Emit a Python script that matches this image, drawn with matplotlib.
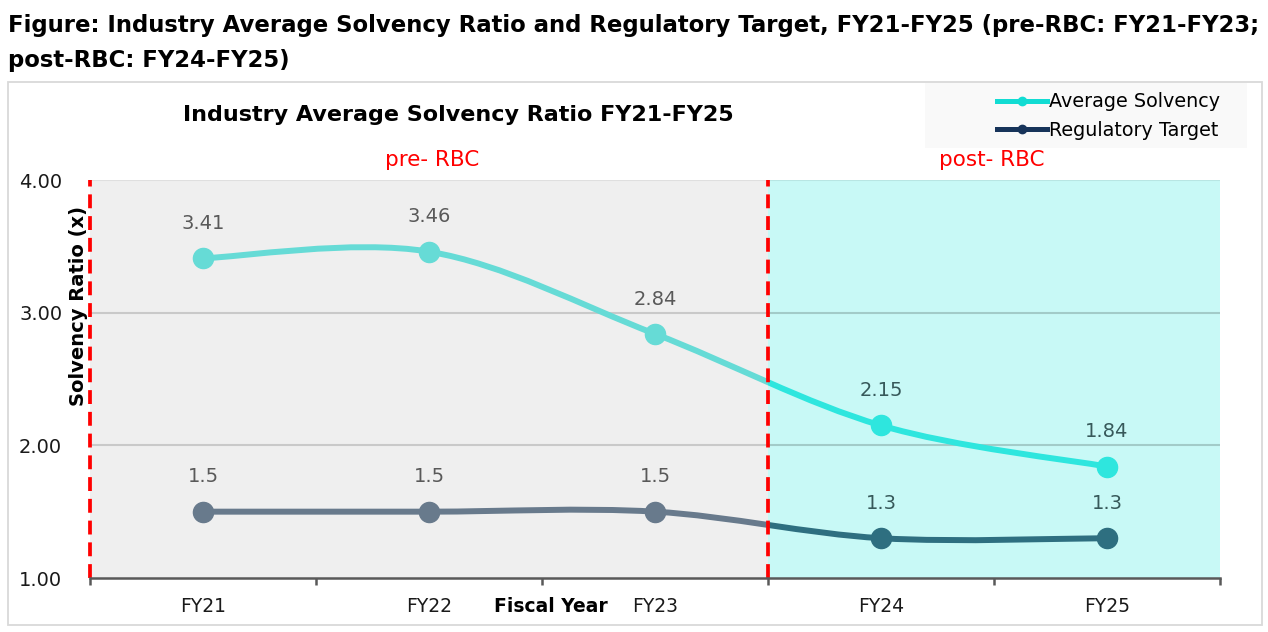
import matplotlib
matplotlib.use('Agg')
import matplotlib.pyplot as plt
from matplotlib.path import Path
from matplotlib.patches import PathPatch, Rectangle
from matplotlib.lines import Line2D
import numpy as np

years = ['FY21', 'FY22', 'FY23', 'FY24', 'FY25']
avg_solvency = [3.41, 3.46, 2.84, 2.15, 1.84]
reg_target = [1.5, 1.5, 1.5, 1.3, 1.3]
avg_labels = ['3.41', '3.46', '2.84', '2.15', '1.84']
reg_labels = ['1.5', '1.5', '1.5', '1.3', '1.3']
yticks = [1.0, 2.0, 3.0, 4.0]
ytick_labels = ['1.00', '2.00', '3.00', '4.00']
split_at = 2.5  # pre-RBC FY21-FY23 | post-RBC FY24-FY25

W, H = 1268, 632
plt.rcParams['font.family'] = ['DejaVu Sans']


def fx(px):
    return px / W


def fy(py):
    return 1 - py / H


def smooth_path(xs, ys):
    # excel-like smoothed line: cubic bezier through the points
    pts = np.column_stack([xs, ys]).astype(float)
    n = len(pts)
    verts = [pts[0]]
    codes = [Path.MOVETO]
    for i in range(n - 1):
        p0 = pts[max(i - 1, 0)]
        p1 = pts[i]
        p2 = pts[i + 1]
        p3 = pts[min(i + 2, n - 1)]
        verts += [p1 + (p2 - p0) / 6, p2 - (p3 - p1) / 6, p2]
        codes += [Path.CURVE4] * 3
    return Path(verts, codes)


fig = plt.figure(figsize=(W / 100, H / 100), dpi=100)
fig.patch.set_facecolor('white')

# outer chart box
fig.add_artist(Rectangle((fx(8), fy(625)), 1254 / W, 543 / H, transform=fig.transFigure,
                         fill=False, edgecolor='#d9d9d9', lw=1.3))
# legend background
fig.add_artist(Rectangle((fx(925), fy(148)), 322 / W, 65 / H, transform=fig.transFigure,
                         facecolor='#f9f9f9', edgecolor='none'))

ax = fig.add_axes([fx(90), fy(578), 1130 / W, 398 / H])
ax.set_xlim(-0.5, 4.5)
ax.set_ylim(1, 4)
ax.patch.set_alpha(0)

regions = [(-0.5, split_at, '#efefef', '#c9c9c9', '#595959'),
           (split_at, 4.5, '#c8f9f6', '#a2cbc8', '#37595a')]
series = [(avg_solvency, avg_labels, '#66dbd6', '#2ee6de'),
          (reg_target, reg_labels, '#687a8c', '#2e6f80')]

x = np.arange(len(years))
for i, (x0, x1, bg, grid_c, lab_c) in enumerate(regions):
    ax.axvspan(x0, x1, color=bg, zorder=0, lw=0)
    ax.hlines([2, 3], x0, x1, color=grid_c, lw=1.5, zorder=1)
    ax.hlines([4], x0, x1, color=grid_c, lw=1.5, alpha=0.4, zorder=1)
    for vals, labels, c_left, c_right in series:
        color = c_left if i == 0 else c_right
        patch = PathPatch(smooth_path(x, vals), facecolor='none', edgecolor=color,
                          lw=4.3, capstyle='round', zorder=3)
        ax.add_patch(patch)
        patch.set_clip_path(Rectangle((x0, 0), x1 - x0, 10, transform=ax.transData))
        mask = (x > x0) & (x < x1)
        ax.plot(x[mask], np.array(vals)[mask], 'o', ms=14.5, color=color, zorder=4)
        for xi, v, lab in zip(x[mask], np.array(vals)[mask], np.array(labels)[mask]):
            ax.annotate(lab, (xi, v), xytext=(0, 25), textcoords='offset points',
                        ha='center', va='center', fontsize=14, color=lab_c)

# pre/post RBC divider lines
for xv in [-0.5, split_at]:
    ax.axvline(xv, color='#ff0000', lw=2.7, ls=(0, (3.7, 2.1)), clip_on=False, zorder=5)

for s in ['top', 'right', 'left']:
    ax.spines[s].set_visible(False)
ax.spines['bottom'].set_color('#595959')
ax.spines['bottom'].set_linewidth(1.8)
ax.spines['bottom'].set_zorder(6)

ax.set_xticks(x, years)
ax.set_xticks(np.arange(-0.5, 5, 1), minor=True)
ax.tick_params(axis='x', which='major', length=0, pad=14, labelsize=13.5, labelcolor='#1a1a1a')
ax.tick_params(axis='x', which='minor', length=5, width=1.8, color='#595959', direction='out')
ax.set_yticks(yticks, ytick_labels)
ax.tick_params(axis='y', length=0, pad=20, labelsize=14, labelcolor='#1a1a1a')

# texts
fig.text(fx(8), fy(32), 'Figure: Industry Average Solvency Ratio and Regulatory Target, '
         'FY21-FY25 (pre-RBC: FY21-FY23;', fontsize=16.4, fontweight='bold', va='baseline')
fig.text(fx(8), fy(67), 'post-RBC: FY24-FY25)', fontsize=16.4, fontweight='bold', va='baseline')
fig.text(fx(458), fy(115), 'Industry Average Solvency Ratio FY21-FY25', fontsize=16,
         fontweight='bold', ha='center', va='center')
fig.text(fx(432), fy(160), 'pre- RBC', fontsize=15.5, color='#ff0000', ha='center', va='center')
fig.text(fx(992), fy(160), 'post- RBC', fontsize=15.5, color='#ff0000', ha='center', va='center')
fig.text(fx(78), fy(306), 'Solvency Ratio (x)', fontsize=14, fontweight='bold',
         rotation=90, ha='center', va='center')
fig.text(fx(551), fy(606), 'Fiscal Year', fontsize=13.5, fontweight='bold', ha='center', va='center')

handles = [Line2D([], [], color='#12dcd3', lw=3.6, marker='o', ms=6),
           Line2D([], [], color='#17345a', lw=3.6, marker='o', ms=6)]
fig.legend(handles, ['Average Solvency', 'Regulatory Target'], loc='center left',
           bbox_to_anchor=(fx(997), fy(116)), frameon=False, fontsize=13.8,
           handlelength=2.6, handletextpad=0.1, labelspacing=0.5,
           borderaxespad=0, borderpad=0)

fig.savefig('out.png', dpi=100, facecolor='white')
plt.close(fig)
